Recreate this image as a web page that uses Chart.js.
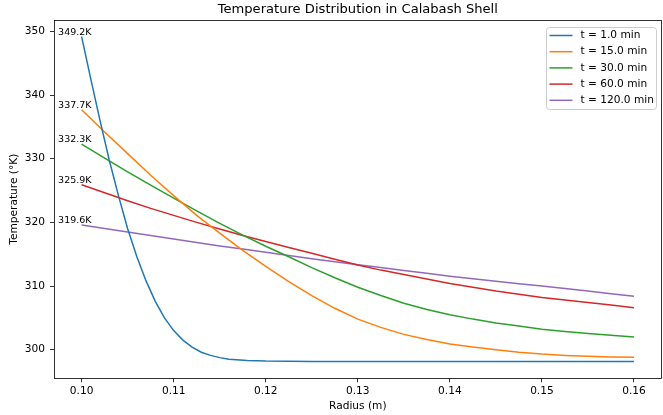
<!DOCTYPE html>
<html>
<head>
<meta charset="utf-8">
<title>Temperature Distribution in Calabash Shell</title>
<script src="https://cdn.jsdelivr.net/npm/chart.js@4/dist/chart.umd.min.js"></script>
<style>
  html, body { margin: 0; padding: 0; background: #fff; }
  #wrap { width: 663px; height: 415px; }
</style>
</head>
<body>
<div id="wrap"><canvas id="tempChart" width="663" height="415"></canvas></div>
<script>
// radius grid for the slow curves (m)
const radiusSteps = [0.1000, 0.1025, 0.1050, 0.1075, 0.1100, 0.1125, 0.1150, 0.1175, 0.1200,
    0.1225, 0.1250, 0.1275, 0.1300, 0.1325, 0.1350, 0.1375, 0.1400, 0.1425, 0.1450, 0.1475,
    0.1500, 0.1525, 0.1550, 0.1575, 0.1600];
// finer grid near the surface for the 1 min curve
const radiusFine = [0.100, 0.101, 0.102, 0.103, 0.104, 0.105, 0.106, 0.107, 0.108, 0.109,
    0.110, 0.111, 0.112, 0.113, 0.114, 0.115, 0.116, 0.118, 0.120, 0.125, 0.130, 0.135,
    0.140, 0.145, 0.150, 0.155, 0.160];

const tempT1 = [349.2, 342.5, 336.0, 329.8, 324.2, 319.0, 314.6, 310.8, 307.6, 305.0,
    303.0, 301.5, 300.4, 299.6, 299.1, 298.75, 298.5, 298.3, 298.2, 298.15, 298.15, 298.15,
    298.15, 298.15, 298.15, 298.15, 298.15];
const tempT15 = [337.7, 334.2, 330.8, 327.4, 324.2, 321.1, 318.3, 315.6, 313.1, 310.7,
    308.5, 306.5, 304.8, 303.5, 302.4, 301.6, 300.9, 300.4, 300.0, 299.6,
    299.3, 299.1, 298.95, 298.85, 298.8];
const tempT30 = [332.3, 330.1, 327.95, 325.85, 323.8, 321.8, 319.85, 318.0, 316.25, 314.6,
    312.9, 311.3, 309.8, 308.5, 307.3, 306.3, 305.5, 304.8, 304.2, 303.7,
    303.2, 302.85, 302.55, 302.25, 302.0];
const tempT60 = [325.9, 324.65, 323.4, 322.2, 321.1, 320.0, 318.95, 317.95, 317.0, 316.05,
    315.15, 314.2, 313.3, 312.5, 311.8, 311.1, 310.4, 309.8, 309.2, 308.7,
    308.2, 307.8, 307.4, 307.0, 306.6];
const tempT120 = [319.6, 319.05, 318.5, 317.95, 317.4, 316.85, 316.3, 315.8, 315.3, 314.8,
    314.3, 313.8, 313.35, 312.9, 312.45, 312.0, 311.55, 311.15, 310.75, 310.35,
    310.0, 309.6, 309.2, 308.8, 308.4];

const timeLabels = ['t = 1.0 min', 't = 15.0 min', 't = 30.0 min', 't = 60.0 min', 't = 120.0 min'];
const lineColors = ['#1f77b4', '#ff7f0e', '#2ca02c', '#d62728', '#9467bd'];
const xTicks = [0.10, 0.11, 0.12, 0.13, 0.14, 0.15, 0.16];
const yTicks = [300, 310, 320, 330, 340, 350];

const FONT = '"DejaVu Sans", "Liberation Sans", sans-serif';
const TICK_SIZE = 10.6;
Chart.defaults.font.family = FONT;
Chart.defaults.color = '#000';

function pts(xs, ys) {
    return xs.map((x, i) => ({ x: x, y: ys[i] }));
}

const series = [
    pts(radiusFine, tempT1),
    pts(radiusSteps, tempT15),
    pts(radiusSteps, tempT30),
    pts(radiusSteps, tempT60),
    pts(radiusSteps, tempT120),
];

// frame, title, start labels and legend drawn the matplotlib way
const mplExtras = {
    id: 'mplExtras',
    afterDatasetsDraw(chart) {
        const { ctx, chartArea: a, scales: { x, y } } = chart;
        ctx.save();

        ctx.strokeStyle = '#000';
        ctx.lineWidth = 0.8;
        ctx.strokeRect(Math.round(a.left) + 0.5, Math.round(a.top) + 0.5,
            Math.round(a.right - a.left) - 1, Math.round(a.bottom - a.top));

        ctx.fillStyle = '#000';
        ctx.font = '13.1px ' + FONT;
        ctx.textAlign = 'center';
        ctx.textBaseline = 'middle';
        ctx.fillText('Temperature Distribution in Calabash Shell', (a.left + a.right) / 2, 10);

        ctx.font = '9.5px ' + FONT;
        ctx.textAlign = 'left';
        ctx.textBaseline = 'alphabetic';
        chart.data.datasets.forEach(ds => {
            const p = ds.data[0];
            ctx.fillText(p.y.toFixed(1) + 'K', x.getPixelForValue(p.x) - 23.5, y.getPixelForValue(p.y) - 2);
        });

        // legend box
        const bx = 546.5, by = 27.5, bw = 110, bh = 82, r = 3;
        ctx.beginPath();
        ctx.roundRect(bx, by, bw, bh, r);
        ctx.fillStyle = 'rgba(255,255,255,0.8)';
        ctx.fill();
        ctx.strokeStyle = '#cccccc';
        ctx.lineWidth = 1;
        ctx.stroke();

        ctx.font = TICK_SIZE + 'px ' + FONT;
        ctx.textBaseline = 'middle';
        chart.data.datasets.forEach((ds, i) => {
            const ry = 35.5 + i * 16.2;
            ctx.strokeStyle = ds.borderColor;
            ctx.lineWidth = 1.5;
            ctx.beginPath();
            ctx.moveTo(549.5, ry);
            ctx.lineTo(572.5, ry);
            ctx.stroke();
            ctx.fillStyle = '#000';
            ctx.fillText(ds.label, 580.5, ry);
        });
        ctx.restore();
    }
};

const tempChart = new Chart(document.getElementById('tempChart').getContext('2d'), {
    type: 'line',
    data: {
        datasets: series.map((data, i) => ({
            label: timeLabels[i],
            data: data,
            borderColor: lineColors[i],
            backgroundColor: lineColors[i],
            borderWidth: 1.5,
            pointRadius: 0,
            tension: 0,
            fill: false,
        })),
    },
    options: {
        responsive: false,
        animation: false,
        layout: { padding: { top: 20, right: 1.4, bottom: 0, left: 0 } },
        plugins: { legend: { display: false }, title: { display: false }, tooltip: { enabled: false } },
        scales: {
            x: {
                type: 'linear',
                min: 0.097,
                max: 0.163,
                afterBuildTicks: s => { s.ticks = xTicks.map(v => ({ value: v })); },
                afterFit: s => { s.height = 36.7; },
                ticks: { font: { size: TICK_SIZE }, color: '#000', padding: 3, maxRotation: 0,
                    callback: v => v.toFixed(2) },
                grid: { display: true, drawOnChartArea: false, drawTicks: true, tickLength: 4,
                    tickColor: '#000', tickWidth: 0.8 },
                border: { display: false },
                title: { display: true, text: 'Radius (m)', font: { size: TICK_SIZE }, color: '#000',
                    padding: { top: 0, bottom: 2 } },
            },
            y: {
                type: 'linear',
                min: 295.5,
                max: 351.8,
                afterBuildTicks: s => { s.ticks = yTicks.map(v => ({ value: v })); },
                afterFit: s => { s.width = 54; },
                ticks: { font: { size: TICK_SIZE }, color: '#000', padding: 5, callback: v => String(v) },
                grid: { display: true, drawOnChartArea: false, drawTicks: true, tickLength: 4,
                    tickColor: '#000', tickWidth: 0.8 },
                border: { display: false },
                title: { display: true, text: 'Temperature (°K)', font: { size: TICK_SIZE }, color: '#000',
                    padding: { top: 7.5, bottom: 0 } },
            },
        },
    },
    plugins: [mplExtras],
});
</script>
</body>
</html>
